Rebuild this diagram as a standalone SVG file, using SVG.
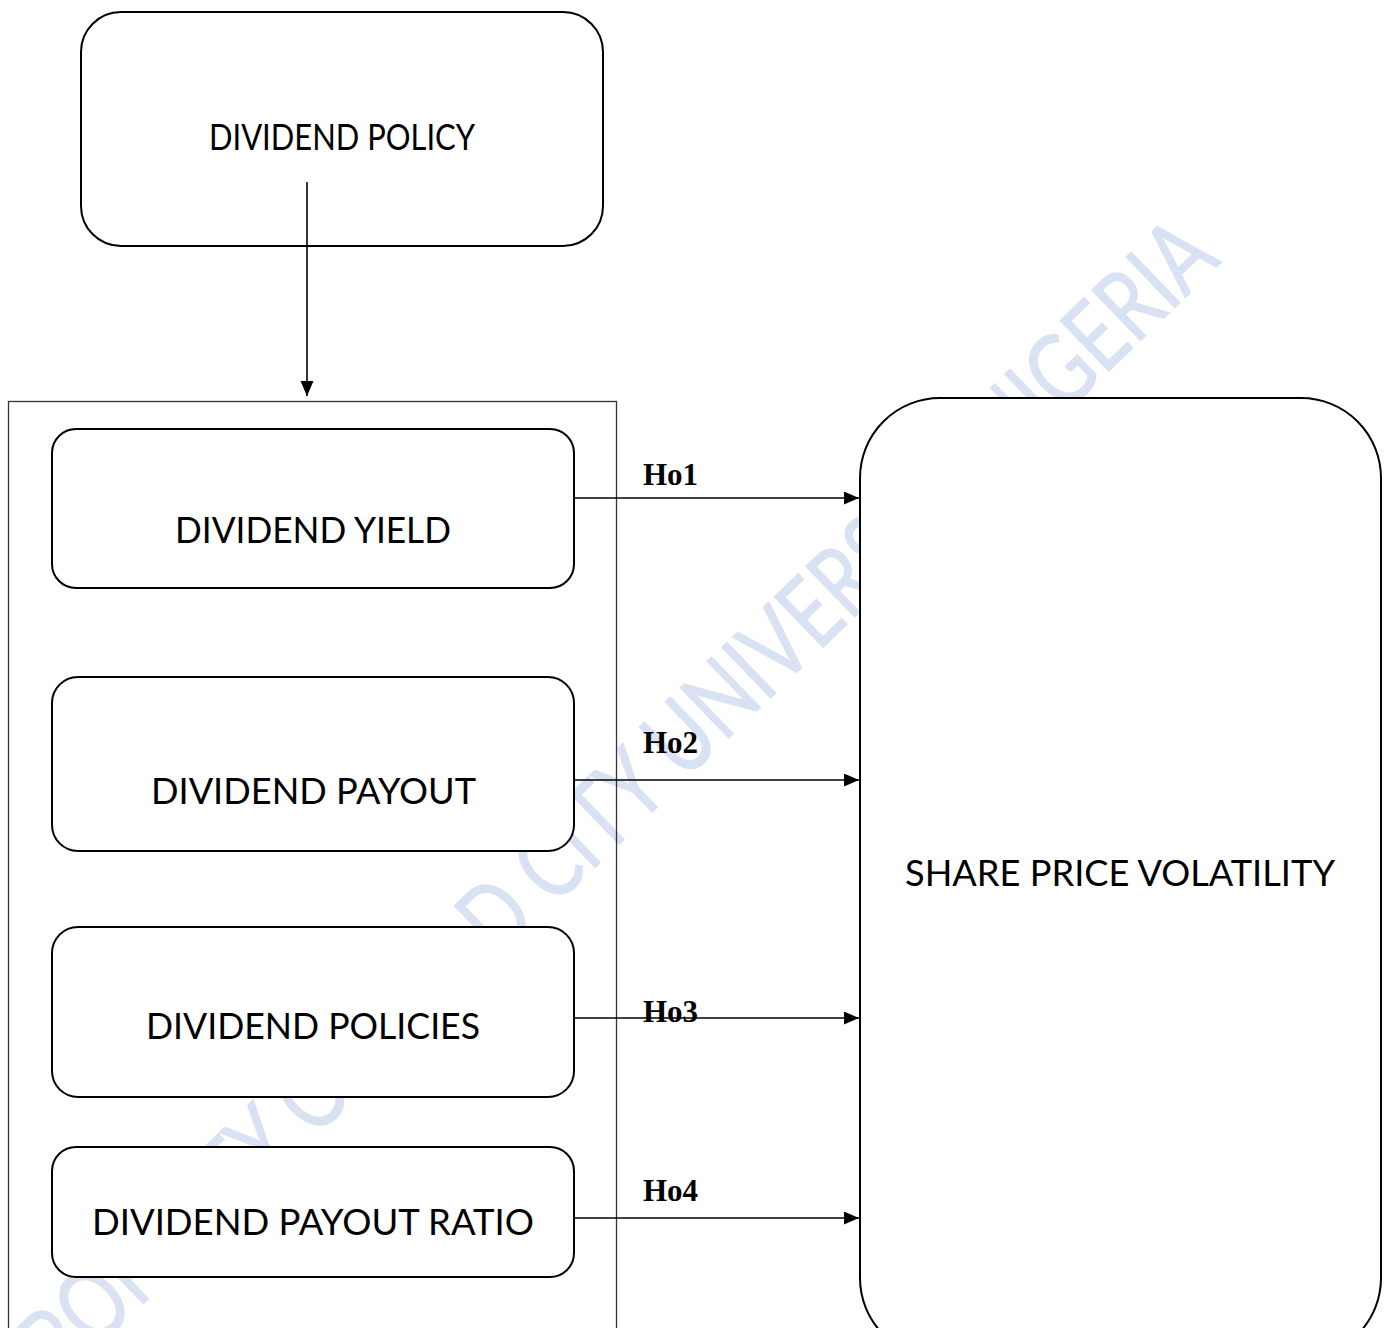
<svg xmlns="http://www.w3.org/2000/svg" width="1384" height="1328" viewBox="0 0 1384 1328">
<style>
.box{fill:#fff;stroke:#000;stroke-width:2}
.lbl{font-family:Lato,"Open Sans","Liberation Sans",sans-serif;font-size:37px;fill:#000;text-anchor:start}
.ho{font-family:"Liberation Serif","Times New Roman",serif;font-weight:bold;font-size:31px;fill:#000}
.wm{font-family:Lato,"Open Sans","Liberation Sans",sans-serif;font-size:98px;fill:#d9e2f3;stroke:#d9e2f3;stroke-width:1.2}
.conn{stroke:#000;stroke-width:1.6;fill:none}
</style>
<defs>
<marker id="ah" markerUnits="userSpaceOnUse" markerWidth="16" markerHeight="14" refX="15" refY="6.5" orient="auto">
<path d="M0,0 L15,6.5 L0,13 z" fill="#000"/>
</marker>
</defs>
<rect width="1384" height="1328" fill="#fff"/>
<g id="watermark">
<text class="wm" transform="translate(1222,262) rotate(-44)" text-anchor="end" textLength="1660" lengthAdjust="spacingAndGlyphs">PROPERTY OF LEAD CITY UNIVERSITY NIGERIA</text>
</g>
<g id="container">
<rect x="8.5" y="401.5" width="608" height="940" fill="none" stroke="#333" stroke-width="1.3"/>
</g>
<g id="node-policy">
<rect class="box" x="81" y="12" width="522" height="234" rx="40" ry="40"/>
<text class="lbl" x="209" y="150" font-size="32" textLength="266" lengthAdjust="spacingAndGlyphs">DIVIDEND POLICY</text>
</g>
<g id="node-yield">
<rect class="box" x="52" y="429" width="522" height="159" rx="24" ry="24"/>
<text class="lbl" x="175" y="543" textLength="276" lengthAdjust="spacingAndGlyphs">DIVIDEND YIELD</text>
</g>
<g id="node-payout">
<rect class="box" x="52" y="677" width="522" height="174" rx="26" ry="26"/>
<text class="lbl" x="151" y="804" textLength="325" lengthAdjust="spacingAndGlyphs">DIVIDEND PAYOUT</text>
</g>
<g id="node-policies">
<rect class="box" x="52" y="927" width="522" height="170" rx="26" ry="26"/>
<text class="lbl" x="146" y="1039" textLength="334" lengthAdjust="spacingAndGlyphs">DIVIDEND POLICIES</text>
</g>
<g id="node-ratio">
<rect class="box" x="52" y="1147" width="522" height="130" rx="24" ry="24"/>
<text class="lbl" x="92" y="1235" textLength="442" lengthAdjust="spacingAndGlyphs">DIVIDEND PAYOUT RATIO</text>
</g>
<g id="node-volatility">
<rect class="box" x="860" y="398" width="521" height="960" rx="80" ry="80"/>
<text class="lbl" x="905" y="886" textLength="430" lengthAdjust="spacingAndGlyphs">SHARE PRICE VOLATILITY</text>
</g>
<g id="connectors">
<line class="conn" x1="307" y1="182" x2="307" y2="396" marker-end="url(#ah)"/>
<line class="conn" x1="574" y1="498" x2="859" y2="498" marker-end="url(#ah)"/>
<line class="conn" x1="574" y1="780" x2="859" y2="780" marker-end="url(#ah)"/>
<line class="conn" x1="574" y1="1018" x2="859" y2="1018" marker-end="url(#ah)"/>
<line class="conn" x1="574" y1="1218" x2="859" y2="1218" marker-end="url(#ah)"/>
<text class="ho" x="643" y="485">Ho1</text>
<text class="ho" x="643" y="753">Ho2</text>
<text class="ho" x="643" y="1022">Ho3</text>
<text class="ho" x="643" y="1201">Ho4</text>
</g>
</svg>
